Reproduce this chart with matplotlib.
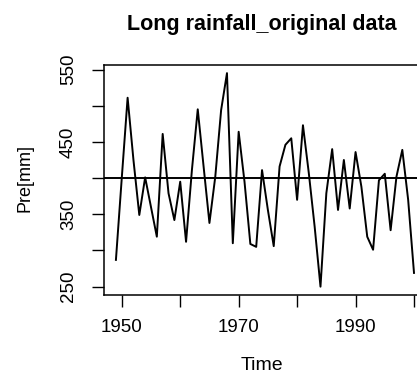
import matplotlib
matplotlib.use("Agg")
import matplotlib.pyplot as plt

plt.rcParams['font.family'] = ['Liberation Sans', 'DejaVu Sans']

# annual rainfall
years = list(range(1949, 2001))
rain = [287, 400, 511, 425, 349, 401, 360, 319, 461, 379,
        342, 395, 312, 411, 495, 416, 338, 402, 494, 545,
        310, 464, 395, 309, 305, 411, 356, 306, 416, 446,
        455, 370, 473, 407, 333, 250, 379, 440, 356, 425,
        358, 436, 388, 319, 301, 397, 406, 328, 402, 439,
        370, 269]
ref_level = 400

xticks = [1950, 1960, 1970, 1980, 1990, 2000]
xtick_labels = ["1950", "", "1970", "", "1990", ""]
yticks = [250, 300, 350, 400, 450, 500, 550]
ytick_labels = ["250", "", "350", "", "450", "", "550"]

fig = plt.figure(figsize=(4.17, 3.78), dpi=100)
# axes run past the right edge, as in the cropped original
ax = fig.add_axes([0.2494, 0.2196, 0.772, 0.608])

ax.plot(years, rain, color="black", lw=1.4)
ax.axhline(ref_level, color="black", lw=1.4)

ax.set_xlim(1946.96, 2002.04)
ax.set_ylim(238.5, 556)

ax.set_xticks(xticks)
ax.set_xticklabels(xtick_labels)
ax.set_yticks(yticks)
ax.set_yticklabels(ytick_labels, rotation=90, va="center")

ax.tick_params(axis="both", direction="out", length=8.5, width=1, labelsize=13.5, colors="black")
ax.tick_params(axis="x", pad=9)
ax.tick_params(axis="y", pad=11)
for s in ax.spines.values():
    s.set_linewidth(1.1)

fig.text(0.628, 0.934, "Long rainfall_original data", ha="center", va="center",
         fontsize=15.5, fontweight="bold")
fig.text(0.628, 0.032, "Time", ha="center", va="center", fontsize=14)
fig.text(0.06, 1 - 178 / 378, "Pre[mm]", ha="center", va="center", rotation=90, fontsize=13)

fig.savefig("out.png", dpi=100)
